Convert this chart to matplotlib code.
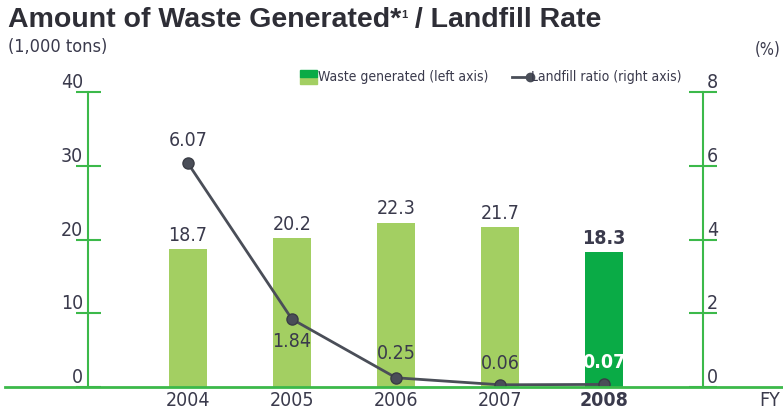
import matplotlib
matplotlib.use('Agg')
import matplotlib.pyplot as plt
from matplotlib.lines import Line2D
from matplotlib.patches import Rectangle

years = ['2004', '2005', '2006', '2007', '2008']
waste = [18.7, 20.2, 22.3, 21.7, 18.3]
landfill = [6.07, 1.84, 0.25, 0.06, 0.07]
left_ticks = [0, 10, 20, 30, 40]
right_ticks = [0, 2, 4, 6, 8]

light = '#a3cf62'
dark = '#0aab46'
axis_green = '#3cb94a'
line_gray = '#4a4e58'
txt = '#3a3a4c'

plt.rcParams['font.family'] = ['DejaVu Sans']
plt.rcParams['font.stretch'] = 'condensed'

fig = plt.figure(figsize=(7.83, 4.12), dpi=100)
W, H = 783, 412
ax = fig.add_axes([88 / W, 1 - 387 / H, (703 - 88) / W, (387 - 92) / H])
ax2 = ax.twinx()

x = list(range(len(years)))
colors = [light] * 4 + [dark]
ax.bar(x, waste, width=0.37, color=colors, zorder=2)
ax.set_xlim(-0.96, 4.95)
ax.set_ylim(0, 40)
ax2.set_ylim(0, 8)

ax2.plot(x, landfill, color=line_gray, lw=2, marker='o', ms=8,
         markeredgecolor='#3a3d45', markerfacecolor=line_gray, zorder=3)

for a in (ax, ax2):
    for s in a.spines.values():
        s.set_visible(False)
    a.set_xticks([])
ax.spines['left'].set_visible(True)
ax.spines['left'].set_color(axis_green)
ax.spines['left'].set_linewidth(1.5)
ax2.spines['right'].set_visible(True)
ax2.spines['right'].set_color(axis_green)
ax2.spines['right'].set_linewidth(1.5)

ax.set_yticks(left_ticks)
ax.tick_params(axis='y', direction='inout', length=18, width=1.5,
               color=axis_green, labelsize=14, labelcolor=txt, pad=-5.5)
for lab in ax.get_yticklabels():
    lab.set_va('bottom')
ax2.set_yticks(right_ticks)
ax2.tick_params(axis='y', direction='inout', length=20, width=1.5,
                color=axis_green, labelsize=14, labelcolor=txt, pad=-7)
for lab in ax2.get_yticklabels():
    lab.set_va('bottom')

# baseline
fig.add_artist(Line2D([5 / W, 1], [1 - 387 / H] * 2, color=axis_green,
                      lw=2, transform=fig.transFigure))

# bar labels
for i, v in enumerate(waste):
    ax.text(i, v + 0.6, f'{v}', ha='center', va='bottom', fontsize=14,
            color=txt, fontweight='bold' if i == 4 else 'normal')

# line labels
offsets = [(0, 0.35, 'bottom'), (0, -0.35, 'top'), (0, 0.4, 'bottom'),
           (0, 0.33, 'bottom'), (0, 0.33, 'bottom')]
for i, v in enumerate(landfill):
    dx, dy, va = offsets[i]
    ax2.text(i + dx, v + dy, f'{v:.2f}', ha='center', va=va, fontsize=14,
             color='white' if i == 4 else txt,
             fontweight='bold' if i == 4 else 'normal')

# year labels
for i, y in enumerate(years):
    ax.text(i, -0.5, y, ha='center', va='top', fontsize=14, color=txt,
            fontweight='bold' if i == 4 else 'normal', clip_on=False)
fig.text(780 / W, 1 - 400 / H, 'FY', ha='right', va='center', fontsize=14, color=txt)

# title, with the small superscript after the asterisk
r = fig.canvas.get_renderer()
tfam = ['Liberation Sans', 'DejaVu Sans']
t1 = fig.text(8 / W, 1 - 20 / H, 'Amount of Waste Generated*', fontsize=20.5,
              fontweight='bold', color='#2e2e36', va='center', family=tfam,
              stretch='normal')
bb = t1.get_window_extent(r)
t2 = fig.text(bb.x1 / W, 1 - 15 / H, '1', fontsize=8, fontweight='bold',
              color='#2e2e36', va='center', family=tfam, stretch='normal')
bb2 = t2.get_window_extent(r)
fig.text(bb2.x1 / W, 1 - 20 / H, ' / Landfill Rate', fontsize=20.5,
         fontweight='bold', color='#2e2e36', va='center', family=tfam,
         stretch='normal')
fig.text(8 / W, 1 - 47 / H, '(1,000 tons)', fontsize=13, color=txt, va='center')
fig.text(755 / W, 1 - 50 / H, '(%)', fontsize=12, color=txt, va='center', ha='left')

# legend
fig.add_artist(Rectangle((300 / W, 1 - 84 / H), 17 / W, 7 / H, color=light,
                         transform=fig.transFigure))
fig.add_artist(Rectangle((300 / W, 1 - 77 / H), 17 / W, 7 / H, color=dark,
                         transform=fig.transFigure))
fig.text(318 / W, 1 - 77 / H, 'Waste generated (left axis)', fontsize=10,
         color=txt, va='center')
fig.add_artist(Line2D([512 / W, 530 / W], [1 - 77 / H] * 2, color=line_gray,
                      lw=2, marker='o', markevery=[1], ms=6, transform=fig.transFigure))
fig.text(531 / W, 1 - 77 / H, 'Landfill ratio (right axis)', fontsize=10,
         color=txt, va='center')

fig.savefig('out.png', dpi=100)
